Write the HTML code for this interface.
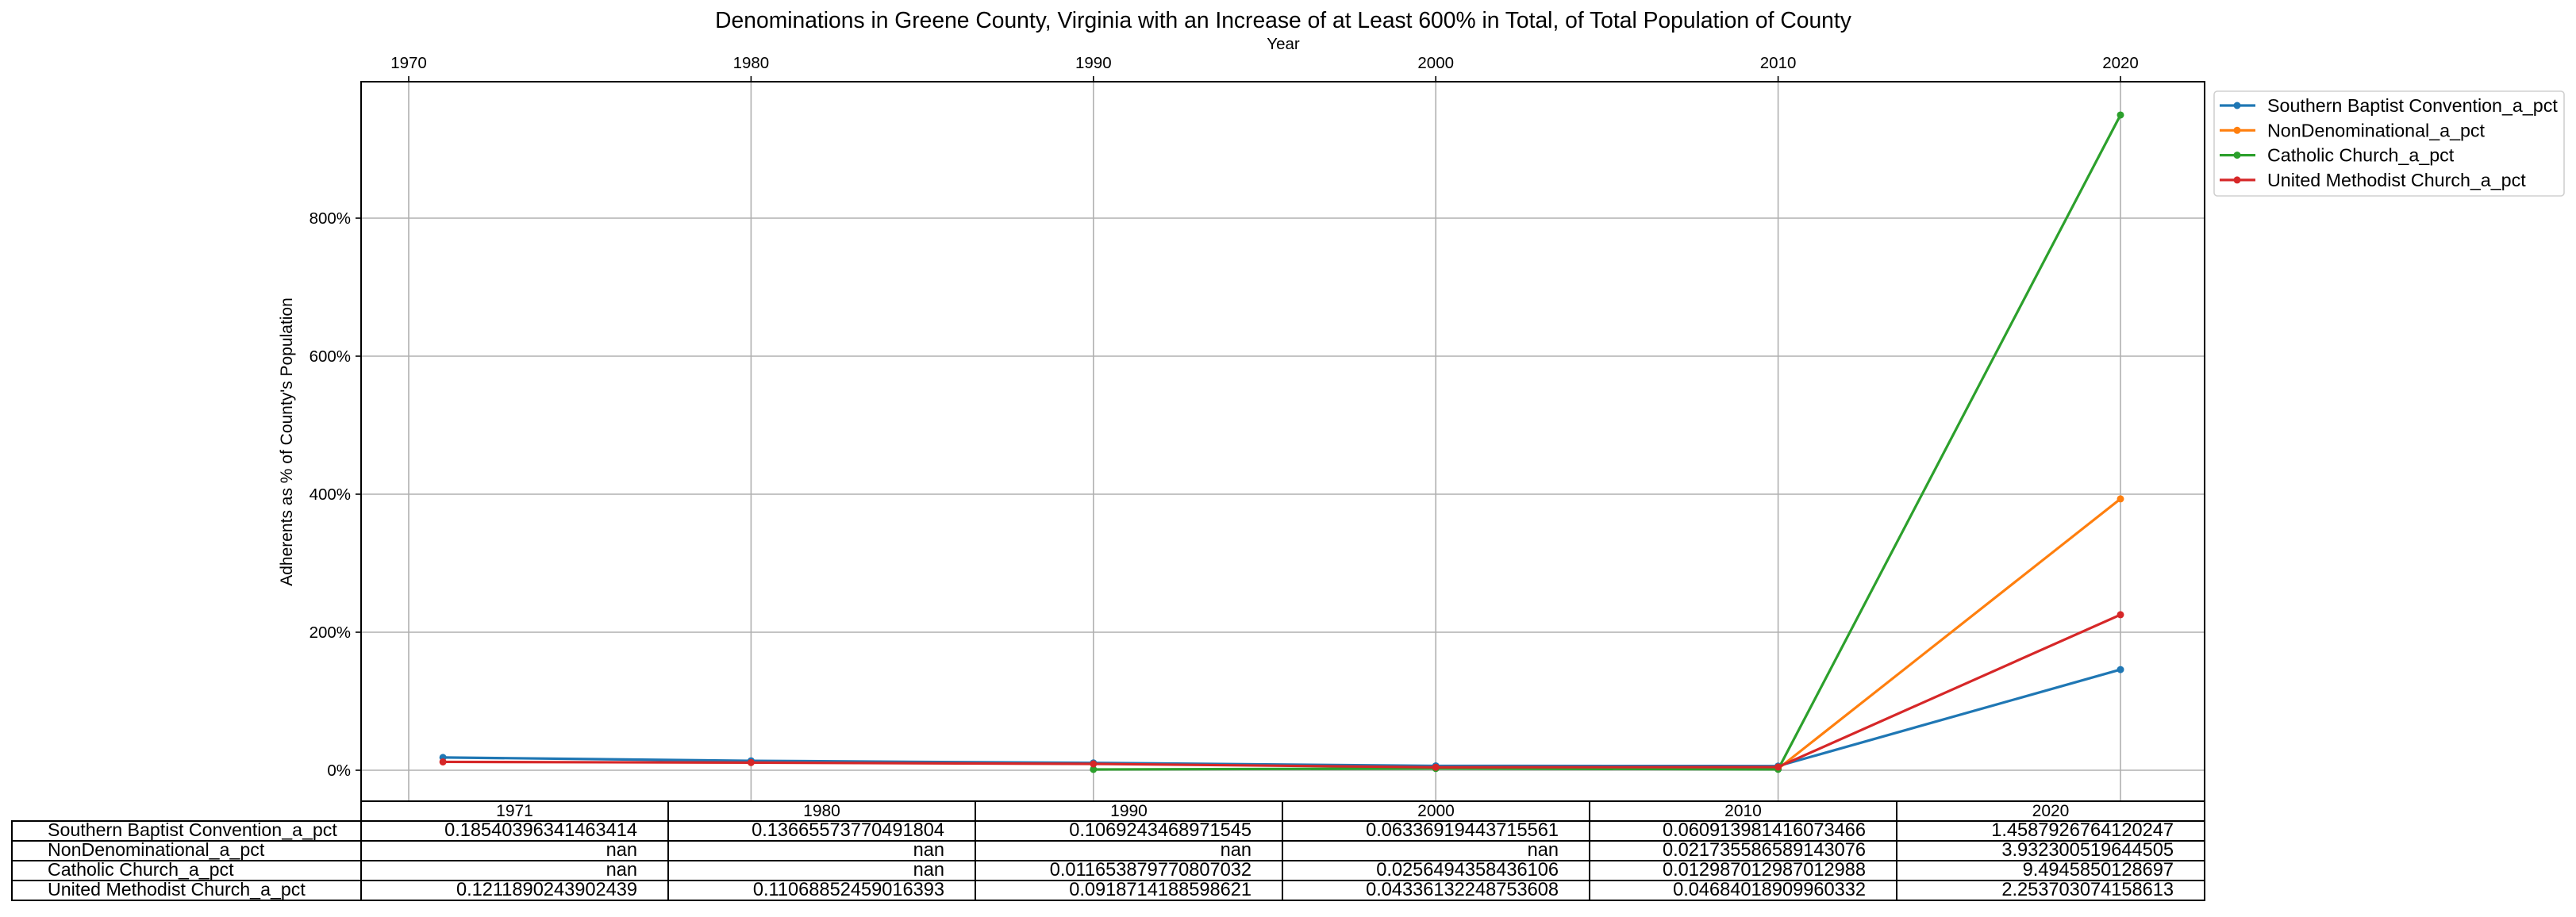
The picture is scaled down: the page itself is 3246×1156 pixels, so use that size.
<!DOCTYPE html>
<html><head><meta charset="utf-8"><style>
body{margin:0;background:#fff;}
svg text{font-family:"Liberation Sans","DejaVu Sans",sans-serif;fill:#000;}
</style></head><body>
<svg id="chart" width="3246" height="1151" viewBox="0 0 3246 1151" xmlns="http://www.w3.org/2000/svg">
<text id="title" x="1617" y="35" font-size="28.3" text-anchor="middle">Denominations in Greene County, Virginia with an Increase of at Least 600% in Total, of Total Population of County</text>
<text x="1617" y="62" font-size="20.5" text-anchor="middle">Year</text>
<text transform="translate(368,557) rotate(-90)" font-size="21" text-anchor="middle">Adherents as % of County's Population</text>
<g id="grid"></g><g id="series"></g><g id="table"></g>
<rect x="455" y="103" width="2323" height="907" fill="none" stroke="#000" stroke-width="2"/>
<g id="legend"></g>
</svg>
<script>
const years=[1971,1980,1990,2000,2010,2020];
const seriesNames=["Southern Baptist Convention_a_pct","NonDenominational_a_pct","Catholic Church_a_pct","United Methodist Church_a_pct"];
const sbc=[0.18540396341463414,0.13665573770491804,0.1069243468971545,0.06336919443715561,0.060913981416073466,1.4587926764120247];
const nondenom=[null,null,null,null,0.021735586589143076,3.932300519644505];
const catholic=[null,null,0.011653879770807032,0.0256494358436106,0.012987012987012988,9.4945850128697];
const umc=[0.1211890243902439,0.11068852459016393,0.0918714188598621,0.04336132248753608,0.04684018909960332,2.253703074158613];
const xTicks=[1970,1980,1990,2000,2010,2020];
const yTicks=[0,200,400,600,800];
const colors=["#1f77b4","#ff7f0e","#2ca02c","#d62728"];
const allSeries=[sbc,nondenom,catholic,umc];
const NS="http://www.w3.org/2000/svg";
const X=y=>515+(y-1970)*43.14;
const Y=v=>971-v*0.87;
function mk(tag,attrs,parent){const e=document.createElementNS(NS,tag);for(const k in attrs)e.setAttribute(k,attrs[k]);parent.appendChild(e);return e;}
function fit(els,target){const w=els[0].getComputedTextLength();if(!w)return;const s=parseFloat(els[0].getAttribute('font-size'))*target/w;els.forEach(e=>e.setAttribute('font-size',s));}
const grid=document.getElementById('grid');
xTicks.forEach(t=>{
 const l=mk('line',{x1:X(t),x2:X(t),y1:103,y2:1010,stroke:'#b0b0b0','stroke-width':1.6},grid);
 
 
 mk('line',{x1:X(t),x2:X(t),y1:96,y2:103,stroke:'#000','stroke-width':1.6},grid);
 const tx=mk('text',{x:X(t),y:86,'font-size':20.5,'text-anchor':'middle'},grid);tx.textContent=t;
 
 
});
yTicks.forEach(t=>{
 const l=mk('line',{x1:455,x2:2778,y1:Y(t),y2:Y(t),stroke:'#b0b0b0','stroke-width':1.6},grid);
 
 
 mk('line',{x1:448,x2:455,y1:Y(t),y2:Y(t),stroke:'#000','stroke-width':1.6},grid);
 const tx=mk('text',{x:442,y:Y(t)+7,'font-size':20.5,'text-anchor':'end'},grid);tx.textContent=t+'%';
 
 
});
const sg=document.getElementById('series');
allSeries.forEach((s,i)=>{
 let d='';years.forEach((yr,j)=>{if(s[j]==null)return;d+=(d?'L':'M')+X(yr)+','+Y(s[j]*100);});
 const p=mk('path',{d:d,fill:'none',stroke:colors[i],'stroke-width':3.2},sg);
 
 
 years.forEach((yr,j)=>{if(s[j]==null)return;
  const c=mk('circle',{cx:X(yr),cy:Y(s[j]*100),r:4.5,fill:colors[i]},sg);
  
  });
});
const lg=document.getElementById('legend');
const lb=mk('rect',{x:2790,y:115,width:441,height:132,rx:4,fill:'#fff',stroke:'#d0d0d0','stroke-width':1.6},lg);


const legendTexts=[];
seriesNames.forEach((n,i)=>{
 const y=133+i*31.3;
 mk('line',{x1:2797,x2:2842,y1:y,y2:y,stroke:colors[i],'stroke-width':3.2},lg);
 mk('circle',{cx:2819,cy:y,r:4.5,fill:colors[i]},lg);
 const t=mk('text',{x:2857,y:y+8,'font-size':21},lg);t.textContent=n;
 
 
 legendTexts.push(t);
});
fit(legendTexts,366);
const tb=document.getElementById('table');
const colX=[455,842,1229,1616,2003,2390,2778];
const rowY=[1010,1035,1060,1085,1110,1135];
const tableRows=[sbc,nondenom,catholic,umc];
const fmt=v=>v==null?'nan':String(v);
years.forEach((yr,j)=>{
 mk('rect',{x:colX[j],y:rowY[0],width:colX[j+1]-colX[j],height:25,fill:'none',stroke:'#000','stroke-width':2},tb);
 const t=mk('text',{x:(colX[j]+colX[j+1])/2,y:rowY[0]+19,'font-size':21,'text-anchor':'middle'},tb);t.textContent=yr;
 
 
});
const rowLabels=[],numTexts=[];
tableRows.forEach((r,i)=>{
 const y0=rowY[i+1];
 mk('rect',{x:15,y:y0,width:440,height:25,fill:'none',stroke:'#000','stroke-width':2},tb);
 const lt=mk('text',{x:60,y:y0+19,'font-size':21},tb);lt.textContent=seriesNames[i];
 
 
 rowLabels.push(lt);
 r.forEach((v,j)=>{
  mk('rect',{x:colX[j],y:y0,width:colX[j+1]-colX[j],height:25,fill:'none',stroke:'#000','stroke-width':2},tb);
  const t=mk('text',{x:colX[j+1]-39,y:y0+19,'font-size':21,'text-anchor':'end'},tb);t.textContent=fmt(v);
  
  
  numTexts.push(t);
 });
});
fit(rowLabels,365);
fit(numTexts,243);
fit([document.getElementById('title')],1432);
</script>
</body></html>
